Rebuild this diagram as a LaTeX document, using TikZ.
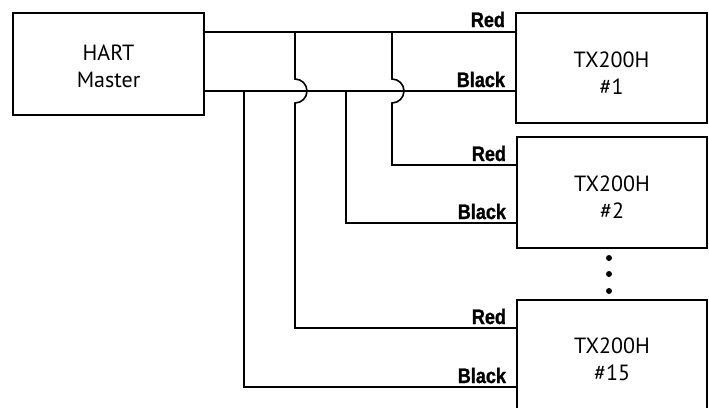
\documentclass[tikz,border=0pt]{standalone}
\usepackage{fontspec}
\setmainfont{PT Sans}
\newfontfamily\lblfont[FakeStretch=0.86,FakeBold=1.2]{Liberation Sans Bold}
\begin{document}
\begin{tikzpicture}[x=1pt,y=-1pt,
  box/.style={draw, line width=1.6pt, align=center, inner sep=0pt, font=\fontsize{22}{27}\selectfont},
  wire/.style={line width=1.6pt},
  wlbl/.style={anchor=base east, inner sep=0pt, font=\lblfont\fontsize{21}{24}\selectfont},
  dotc/.style={circle, fill, inner sep=0pt, minimum size=6pt}]
\useasboundingbox (0,0) rectangle (709,407);
\clip (0,0) rectangle (709,407);
% boxes
\node[box, minimum width=191pt, minimum height=102pt] (hart) at (108.5,64) {\rule{0pt}{21pt}HART\\Master};
\node[box, minimum width=191pt, minimum height=110pt] (tx1) at (611.5,68) {\rule{0pt}{25pt}TX200H\\\#1};
\node[box, minimum width=190pt, minimum height=111pt] (tx2) at (612,192.5) {\rule{0pt}{25pt}TX200H\\\#2};
\node[box, minimum width=190pt, minimum height=110pt] (tx15) at (612,355) {\rule{0pt}{25pt}TX200H\\\#15};
% levels
\coordinate (rb) at (0,32);
\coordinate (bb) at (0,91);
\coordinate (r2) at (0,165);
\coordinate (b2) at (0,223);
\coordinate (r15) at (0,328);
\coordinate (b15) at (0,387);
\coordinate (xr2) at (392,0);
\coordinate (xb2) at (346,0);
\coordinate (xr15) at (295,0);
\coordinate (xb15) at (244,0);
% buses
\draw[wire] (hart.east |- rb) -- (tx1.west |- rb);
\draw[wire] (hart.east |- bb) -- (tx1.west |- bb);
% taps
\draw[wire] (xr2 |- rb) -- ([yshift=12pt]xr2 |- bb) arc[start angle=90, end angle=-90, radius=12pt] -- (xr2 |- r2) -- (tx2.west |- r2);
\draw[wire] (xb2 |- bb) -- (xb2 |- b2) -- (tx2.west |- b2);
\draw[wire] (xr15 |- rb) -- ([yshift=12pt]xr15 |- bb) arc[start angle=90, end angle=-90, radius=12pt] -- (xr15 |- r15) -- (tx15.west |- r15);
\draw[wire] (xb15 |- bb) -- (xb15 |- b15) -- (tx15.west |- b15);
% labels
\node[wlbl] (l1r) at ([xshift=-10pt,yshift=5pt]tx1.west |- rb) {Red};
\node[wlbl] (l1b) at ([xshift=-10pt,yshift=4pt]tx1.west |- bb) {Black};
\node[wlbl] (l2r) at ([xshift=-10pt,yshift=4pt]tx2.west |- r2) {Red};
\node[wlbl] (l2b) at ([xshift=-10pt,yshift=4pt]tx2.west |- b2) {Black};
\node[wlbl] (l15r) at ([xshift=-10pt,yshift=4pt]tx15.west |- r15) {Red};
\node[wlbl] (l15b) at ([xshift=-10pt,yshift=4pt]tx15.west |- b15) {Black};
% dots
\node[dotc] (d1) at (609,258) {};
\node[dotc] (d2) at (609,274) {};
\node[dotc] (d3) at (609,291) {};
\end{tikzpicture}
\end{document}
